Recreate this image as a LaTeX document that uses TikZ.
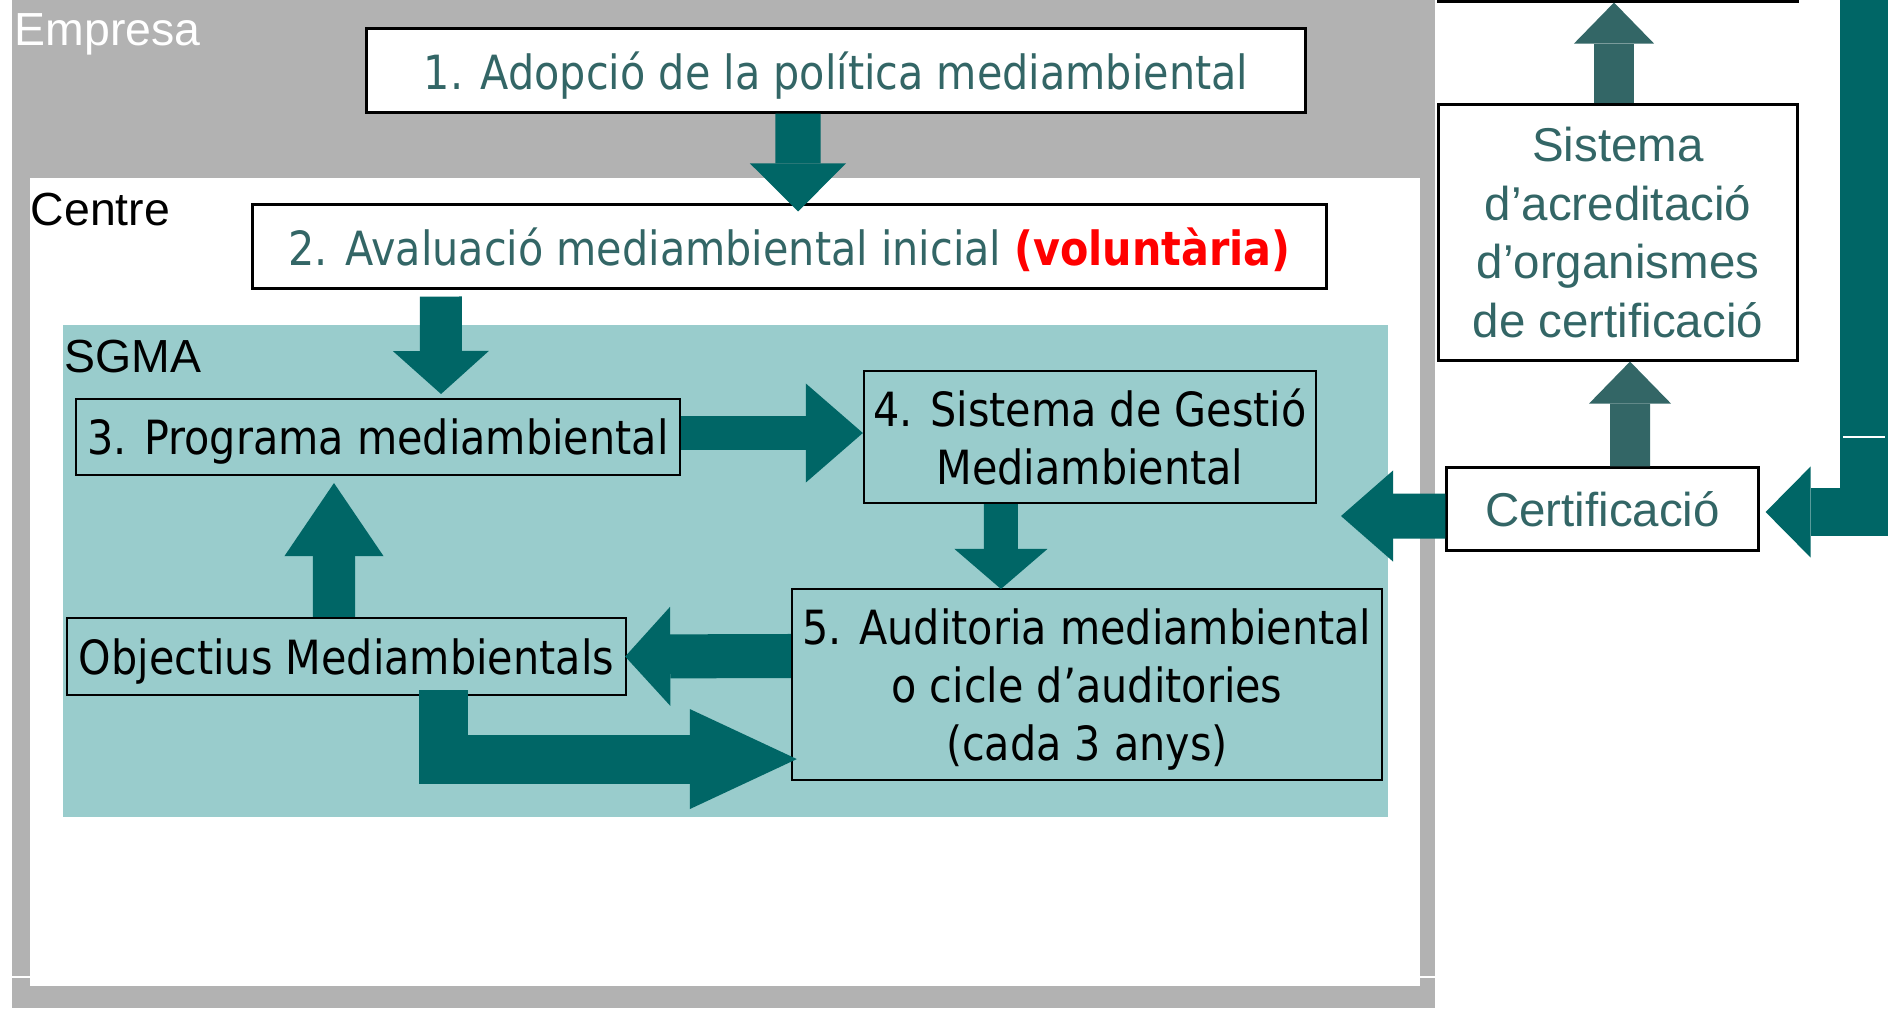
\documentclass[tikz,border=0pt]{standalone}
\usepackage{fontspec}
\usepackage{tikz}
\usetikzlibrary{arrows.meta}
\setmainfont{Liberation Sans}
\newfontfamily\tahomalike[FakeStretch=0.877]{DejaVu Sans}
\newcommand{\tahfont}{\tahomalike\fontsize{13.4}{16.5}\selectfont}
\newcommand{\arialsize}{\fontsize{13.5}{16.6}\selectfont}
\newcommand{\labelsize}{\fontsize{13.2}{16}\selectfont}
\definecolor{empresagray}{HTML}{B2B2B2}
\definecolor{sgmateal}{HTML}{99CCCC}
\definecolor{darkteal}{HTML}{006666}
\definecolor{greyteal}{HTML}{336666}

\begin{document}
\begin{tikzpicture}[x=0.01cm, y=-0.01cm,
    tahbox/.style={draw=black, inner sep=0pt, align=center, font=\tahfont, text depth=0pt},
    whitebox/.style={tahbox, line width=0.03cm, fill=white, text=greyteal},
    sgmabox/.style={tahbox, line width=0.02cm, fill=sgmateal, text=black},
    arialbox/.style={draw=black, inner sep=0pt, align=center, line width=0.03cm, fill=white, text=greyteal, font=\arialsize},
    zonelabel/.style={anchor=base west, inner sep=0pt, font=\labelsize},
    blockarrow/.style n args={3}{draw=darkteal, line width=#1, -{Triangle[width=#2, length=#3, line width=0pt]}}]
    \useasboundingbox (0,0) rectangle (1888,1008);
    \clip (0,0) rectangle (1888,1008);
    \fill[empresagray] (12,0) rectangle (1435,1008);
    \fill[white] (30,178) rectangle (1420,986);
    \fill[sgmateal] (63,325) rectangle (1388,817);
    \draw[white, line width=0.02cm] (12,977) -- (30,977);
    \draw[white, line width=0.02cm] (1420,977) -- (1435,977);

    \node[zonelabel, text=white] (empresa) at (14,45) {Empresa};
    \node[zonelabel] (centre) at (30,225) {Centre};
    \node[zonelabel] (sgma) at (64,372) {SGMA};

    \node[whitebox, minimum width=9.38cm, minimum height=0.83cm] (adopcio) at (836,70.5) {1. Adopció de la política mediambiental};
    \node[whitebox, minimum width=10.73cm, minimum height=0.83cm] (avaluacio) at (789.5,246.5) {2. Avaluació mediambiental inicial \textcolor{red}{\bfseries(voluntària)}};
    \node[sgmabox, minimum width=6.04cm, minimum height=0.76cm] (programa) at (378,437) {3. Programa mediambiental};
    \node[sgmabox, minimum width=4.52cm, minimum height=1.32cm] (gestio) at (1090,437) {4. Sistema de Gestió\\Mediambiental};
    \node[sgmabox, minimum width=5.90cm, minimum height=1.91cm] (auditoria) at (1087,684.5) {5. Auditoria mediambiental\\o cicle d’auditories\\(cada 3 anys)};
    \node[sgmabox, minimum width=5.59cm, minimum height=0.77cm] (objectius) at (346.5,656.5) {Objectius Mediambientals};
    \node[arialbox, minimum width=3.11cm, minimum height=0.82cm] (certificacio) at (1602.5,509) {Certificació};
    \node[arialbox, minimum width=3.58cm, minimum height=2.55cm] (acreditacio) at (1618,232.5) {Sistema\\d’acreditació\\d’organismes\\de certificació};
    \node[arialbox, minimum width=3.58cm, minimum height=1cm] (acord) at (1618,-49) {};
    \coordinate (sgmaedge) at (1341,516);
    \coordinate (bartop) at (1864,-10);

    \draw[blockarrow={0.45cm}{0.96cm}{0.48cm}] ([xshift=-0.38cm]adopcio.south) -- ([xshift=0.085cm, yshift=-0.08cm]avaluacio.north);
    \draw[blockarrow={0.42cm}{0.96cm}{0.43cm}] ([xshift=-3.485cm, yshift=-0.07cm]avaluacio.south) -- ([xshift=0.63cm, yshift=0.04cm]programa.north);
    \draw[blockarrow={0.34cm}{0.99cm}{0.57cm}] ([yshift=0.04cm]programa.east) -- ([yshift=0.04cm]gestio.west);
    \draw[blockarrow={0.34cm}{0.93cm}{0.40cm}] ([xshift=-0.89cm]gestio.south) -- ([xshift=-0.86cm, yshift=-0.01cm]auditoria.north);
    \draw[blockarrow={0.44cm}{0.99cm}{0.45cm}] ([yshift=0.285cm]auditoria.west) -- ([xshift=-0.02cm]objectius.east);
    \draw[blockarrow={0.42cm}{0.99cm}{0.73cm}] ([xshift=-0.125cm]objectius.north) -- ([xshift=-0.44cm, yshift=-0.07cm]programa.south);
    \draw[blockarrow={0.49cm}{1.00cm}{1.07cm}] ([xshift=0.965cm, yshift=0.06cm]objectius.south) |- ([xshift=0.06cm, yshift=-0.745cm]auditoria.west);
    \draw[blockarrow={0.40cm}{0.82cm}{0.42cm}, draw=greyteal] ([xshift=0.275cm]certificacio.north) -- ([xshift=0.12cm]acreditacio.south);
    \draw[blockarrow={0.40cm}{0.80cm}{0.41cm}, draw=greyteal] ([xshift=-0.04cm]acreditacio.north) -- ([xshift=-0.04cm]acord.south);
    \draw[blockarrow={0.45cm}{0.91cm}{0.52cm}] ([yshift=-0.07cm]certificacio.west) -- (sgmaedge);
    \draw[blockarrow={0.48cm}{0.91cm}{0.45cm}] (bartop) |- ([xshift=0.06cm, yshift=-0.03cm]certificacio.east);
    \draw[white, line width=0.02cm] (1843,437) -- (1885,437);
\end{tikzpicture}
\end{document}
